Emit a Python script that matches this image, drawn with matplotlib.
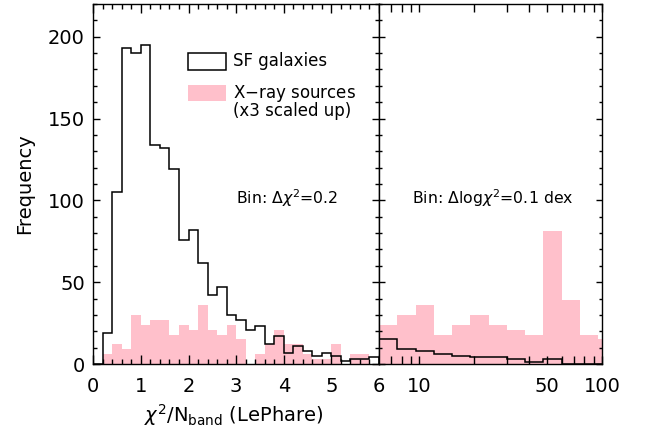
import numpy as np
import matplotlib
matplotlib.use("Agg")
import matplotlib.pyplot as plt
from matplotlib.ticker import MultipleLocator, FixedLocator, NullFormatter
from matplotlib.patches import Rectangle

plt.rcParams['font.family'] = 'DejaVu Sans'
plt.rcParams['mathtext.fontset'] = 'dejavusans'

# linear part: chi2/Nband from 0 to 6, bin 0.2
lin_edges = np.arange(0, 6.01, 0.2)
sf_lin = [0, 19, 105, 193, 190, 195, 134, 132, 119, 76, 82, 62, 42, 47, 30,
          27, 21, 23, 12, 17, 7, 11, 8, 5, 7, 5, 2, 3, 3, 4]
xray_lin = [0, 6, 12, 9, 30, 24, 27, 27, 18, 24, 21, 36, 21, 18, 24,
            15, 0, 6, 12, 21, 12, 12, 6, 3, 3, 12, 0, 6, 6, 0]

# log part: from 6 upward, bin 0.1 dex
log_edges = 6 * 10 ** (0.1 * np.arange(14))
sf_log = [15, 9, 8, 6, 5, 4, 4, 3, 1, 3, 0, 0, 0]
xray_log = [24, 30, 36, 18, 24, 30, 24, 21, 18, 81, 39, 18, 15]

pink = '#ffc0cb'
W, H = 650, 432
fig = plt.figure(figsize=(6.5, 4.32), dpi=100)
x0, x1, x2 = 93.3, 379.0, 602.0
ytop, ybot = 4.0, 364.0
ax1 = fig.add_axes([x0 / W, 1 - ybot / H, (x1 - x0) / W, (ybot - ytop) / H])
ax2 = fig.add_axes([x1 / W, 1 - ybot / H, (x2 - x1) / W, (ybot - ytop) / H])

for ax in (ax1, ax2):
    for s in ax.spines.values():
        s.set_linewidth(1.0)

# left panel
ax1.stairs(xray_lin, lin_edges, fill=True, color=pink, lw=0)
ax1.stairs(sf_lin, lin_edges, color='k', lw=1.1, baseline=0)
ax1.set_xlim(0, 6)
ax1.set_ylim(0, 220)
ax1.xaxis.set_major_locator(MultipleLocator(1))
ax1.xaxis.set_minor_locator(MultipleLocator(0.2))
ax1.yaxis.set_major_locator(MultipleLocator(50))
ax1.yaxis.set_minor_locator(MultipleLocator(10))
ax1.tick_params(which='both', direction='in', top=True, right=True,
                labelsize=14, width=1.0)
ax1.tick_params(axis='x', which='major', length=6.5, pad=9)
ax1.tick_params(axis='x', which='minor', length=3.6)
ax1.tick_params(axis='y', which='major', length=5, pad=6)
ax1.tick_params(axis='y', which='minor', length=3)
ax1.set_ylabel('Frequency', fontsize=14, va='center')
ax1.yaxis.set_label_coords(-0.239, 0.5)
ax1.set_xlabel(r'$\chi^2$/N$_{\mathrm{band}}$ (LePhare)', fontsize=14, va='center')
ax1.xaxis.set_label_coords(0.49, -0.142)

ax1.text(0.50, 0.46, r'Bin: $\Delta\chi^2$=0.2', transform=ax1.transAxes,
         fontsize=11.3, ha='left', va='center')

# legend drawn by hand, IDL style
ax1.add_patch(Rectangle((0.331, 0.817), 0.133, 0.046, transform=ax1.transAxes,
                        fill=False, ec='k', lw=1.1))
ax1.add_patch(Rectangle((0.331, 0.730), 0.133, 0.046, transform=ax1.transAxes,
                        fc=pink, ec='none'))
ax1.text(0.49, 0.842, 'SF galaxies', transform=ax1.transAxes,
         fontsize=12, va='center')
ax1.text(0.49, 0.728, 'X$-$ray sources\n(x3 scaled up)', transform=ax1.transAxes,
         fontsize=12, va='center', linespacing=0.85)

# right panel
ax2.stairs(xray_log, log_edges, fill=True, color=pink, lw=0)
ax2.stairs(sf_log, log_edges, color='k', lw=1.1, baseline=0)
ax2.set_xscale('log')
ax2.set_xlim(6, 100)
ax2.set_ylim(0, 220)
ax2.xaxis.set_major_locator(FixedLocator([10, 50, 100]))
ax2.xaxis.set_major_formatter(matplotlib.ticker.FixedFormatter(['10', '50', '100']))
ax2.xaxis.set_minor_locator(FixedLocator([7, 8, 9, 20, 30, 40, 60, 70, 80, 90]))
ax2.xaxis.set_minor_formatter(NullFormatter())
ax2.yaxis.set_major_locator(MultipleLocator(50))
ax2.yaxis.set_minor_locator(MultipleLocator(10))
ax2.tick_params(which='both', direction='in', top=True, right=True,
                labelsize=14, width=1.0, labelleft=False)
ax2.tick_params(axis='x', which='both', length=6, pad=9)
ax2.tick_params(axis='y', which='major', length=4)
ax2.tick_params(axis='y', which='minor', length=2)

ax2.text(0.15, 0.46, r'Bin: $\Delta$log$\chi^2$=0.1 dex', transform=ax2.transAxes,
         fontsize=11.3, ha='left', va='center')

fig.savefig('out.png', dpi=100)
